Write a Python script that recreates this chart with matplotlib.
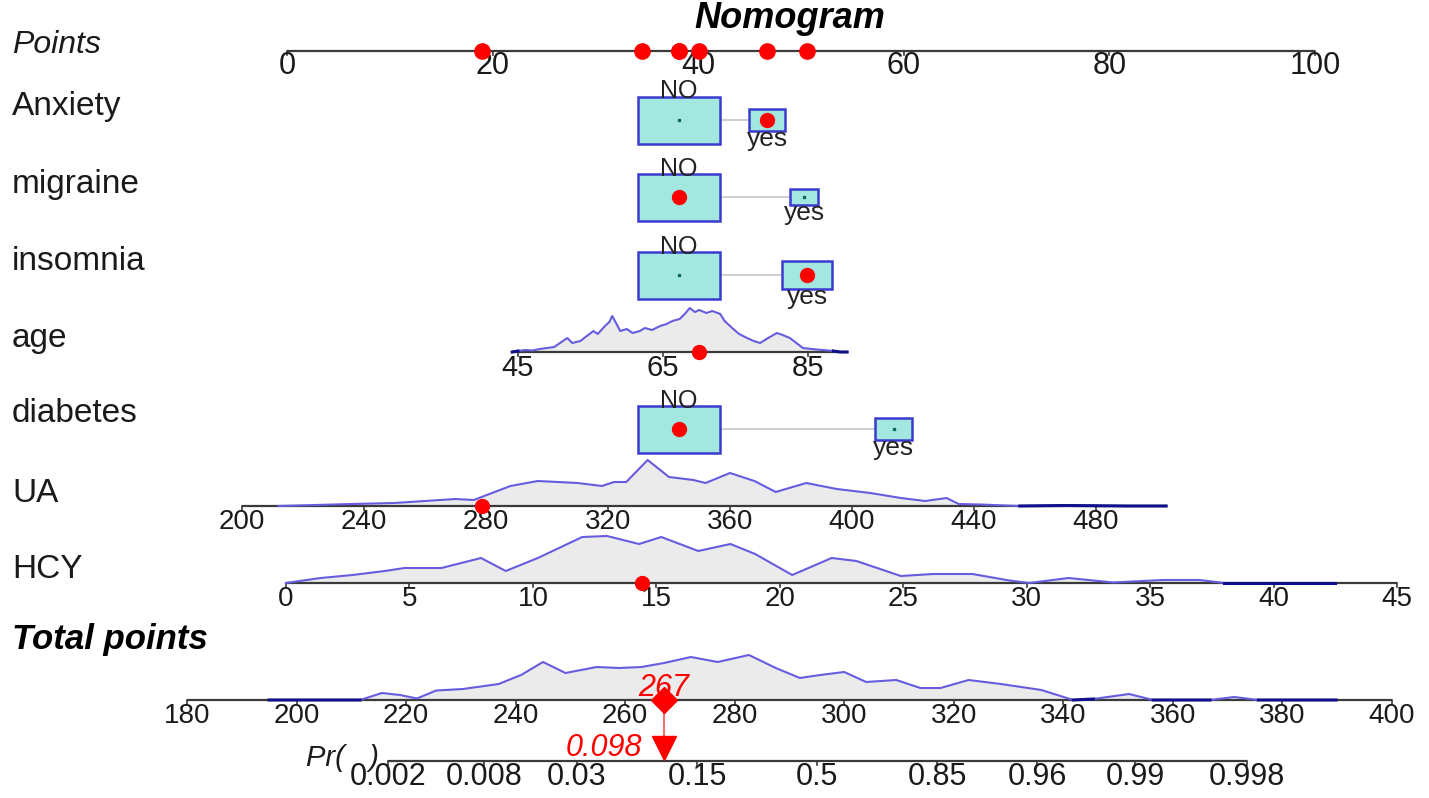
import numpy as np
import matplotlib.pyplot as plt
from matplotlib.patches import Rectangle

plt.rcParams['font.family'] = ['Liberation Sans', 'DejaVu Sans']

# ---------------- data ----------------
# binary predictors: points for each level, size of the 'yes' group relative to 'NO'
binary_vars = ['Anxiety', 'migraine', 'insomnia', 'diabetes']
no_points = [38.1, 38.1, 38.1, 38.1]
yes_points = [46.7, 50.3, 50.6, 59.0]
yes_share = [0.20, 0.12, 0.37, 0.20]
patient_level = ['yes', 'NO', 'yes', 'NO']

# continuous predictors: points = intercept + slope * value
age_coef = (-9.27, 0.7053)
ua_coef = (-63.72, 0.2967)
hcy_coef = (-0.10, 2.402)
age_range = (44.2, 90.4)
ua_range = (200, 503)
hcy_range = (0, 45)
age_ticks = [45, 65, 85]
ua_ticks = [200, 240, 280, 320, 360, 400, 440, 480]
hcy_ticks = [0, 5, 10, 15, 20, 25, 30, 35, 40, 45]
patient_age = 70
patient_ua = 278.8
patient_hcy = 14.4

# density outlines (value, height)
age_dens_x = [44.2, 45, 46, 47, 48, 49, 50, 51, 51.8, 52.5, 53.6, 54.5, 55.4, 56, 57, 57.6, 58,
              58.6, 59.1, 60, 60.8, 61.8, 62.5, 63.5, 64.6, 65.5, 66.3, 67.3, 68, 68.7, 69.4,
              70, 71, 71.8, 72.9, 73.5, 74.7, 75.5, 76.6, 77.5, 78.4, 79.5, 80.7, 81.5, 82.5,
              83.4, 84.3, 85.5, 87, 88.5, 89.4, 90.4]
age_dens_h = [0, 1, 2, 1.5, 3, 4, 5, 10, 14, 9, 11, 16, 21, 18, 26, 30, 36,
              28, 21, 23, 19, 21, 24, 22, 26, 28, 31, 33, 38, 44, 40,
              42, 39, 41, 38, 31, 23, 18, 14, 11, 9, 14, 19, 17, 14,
              9, 4, 3, 2, 1, 0, 0]
ua_dens_x = [212, 236, 250, 260, 270, 276, 282, 288, 297, 310, 318, 322, 326, 333, 340, 348,
             352, 360, 368, 375, 385, 395, 406, 416, 424, 431, 435, 442, 455, 470, 490, 503]
ua_dens_h = [0, 2, 3, 5, 7, 6, 13, 20, 25, 23, 20, 24, 24, 46, 29, 26,
             23, 33, 25, 14, 23, 17, 13, 8, 5, 8, 2, 1.5, 0, 0.5, 0, 0]
hcy_dens_x = [0, 1.4, 2.7, 4.0, 4.8, 6.3, 7.9, 8.9, 10.2, 12.0, 13.0, 14.3, 15.2, 16.7, 18.0,
              19.0, 20.5, 22.1, 23.1, 24.9, 26.2, 27.8, 29.3, 30.1, 31.7, 33.5, 35.5, 37, 38, 42.5]
hcy_dens_h = [0, 5, 8, 12, 15, 15, 25, 12, 25, 46, 47, 39, 46, 32, 39,
              29, 8, 25, 22, 7, 9, 9, 2.5, 0, 5, 0.5, 3, 3, 0, 0]
tp_dens_x = [195, 211.6, 215.6, 218.9, 222, 225.5, 230.4, 236.9, 241, 245, 249.1, 254.8, 258.9,
             263, 267.1, 272, 276.9, 282.6, 287.5, 291.9, 295.6, 300, 304, 309.5, 313.9, 317.6,
             322.7, 328.6, 336, 341.8, 345.5, 352, 356.4, 366.8, 371.2, 375.6, 389.8]
tp_dens_h = [0, 0, 7, 5, 1.5, 9.5, 11, 16, 25, 38, 27, 33, 32,
             33, 37, 43, 38, 45, 32, 22, 25, 28, 18, 20, 12, 12,
             20, 16, 10, 0, 1, 6, 0, 0, 3, 0, 0]

# total points and risk scale
tp_ticks = [180, 200, 220, 240, 260, 280, 300, 320, 340, 360, 380, 400]
pr_ticks = [0.002, 0.008, 0.03, 0.15, 0.5, 0.85, 0.96, 0.99, 0.998]
pr_labels = ['0.002', '0.008', '0.03', '0.15', '0.5', '0.85', '0.96', '0.99', '0.998']
logit_slope = 0.0792
logit_centre = 295.1
points_ticks = [0, 20, 40, 60, 80, 100]

# ---------------- layout ----------------
fig = plt.figure(figsize=(14.29, 7.98), dpi=100)
ax = fig.add_axes([0, 0, 1, 1])
ax.set_xlim(0, 1429)
ax.set_ylim(798, 0)
ax.axis('off')

row_y = {'Points': 51, 'Anxiety': 120, 'migraine': 197, 'insomnia': 275, 'age': 352,
         'diabetes': 429, 'UA': 506, 'HCY': 583, 'Total': 700, 'Pr': 761}
label_y = {'Anxiety': 107, 'migraine': 184, 'insomnia': 262, 'age': 339,
           'diabetes': 414, 'UA': 493, 'HCY': 570}

AXC = '#3a3a3a'
TXT = '#1a1a1a'
RED = '#ff0000'


def px(pts):
    return 287 + 10.28 * np.asarray(pts, dtype=float)


def tp_px(tp):
    return 187 + 5.477 * (np.asarray(tp, dtype=float) - 180)


def logit(p):
    p = np.asarray(p, dtype=float)
    return np.log(p / (1 - p))


def draw_axis(x0, x1, y, tick_x, labels, fs, dy=16):
    ax.plot([x0, x1], [y, y], color=AXC, lw=1.6, zorder=2, solid_capstyle='butt')
    for tx, lb in zip(tick_x, labels):
        ax.plot([tx, tx], [y, y + 4], color=AXC, lw=1.2, zorder=2)
        ax.text(tx, y + dy, lb, ha='center', va='center', fontsize=fs, color=TXT)


def draw_density(xs, hs, y):
    xs = np.asarray(xs, dtype=float)
    hs = np.asarray(hs, dtype=float)
    top = y - hs
    ax.fill_between(xs, y, top, color='#ebebeb', lw=0, zorder=1)
    ax.plot(xs, top, color='#675ce0', lw=1.5, zorder=3)
    # near-empty stretches show as a dark line on the axis
    flat = np.where(hs <= 1, top, np.nan)
    ax.plot(xs, flat, color='#10108a', lw=2.2, zorder=3)


# title and Points axis
ax.text(790, 19, 'Nomogram', ha='center', va='center', fontsize=26,
        fontweight='bold', fontstyle='italic', color='black')
ax.text(12, 45, 'Points', ha='left', va='center', fontsize=23, fontstyle='italic', color=TXT)
draw_axis(px(0), px(100), row_y['Points'], px(points_ticks),
          [str(t) for t in points_ticks], 22, dy=15)

# binary rows
patient_points = []
for i, name in enumerate(binary_vars):
    y = row_y[name]
    ax.text(12, label_y[name], name, ha='left', va='center', fontsize=24, color=TXT)
    wn, hn = 82, 47
    s = np.sqrt(yes_share[i])
    wy, hy = wn * s, hn * s
    xn, xy = px(no_points[i]), px(yes_points[i])
    ax.plot([xn + wn / 2, xy - wy / 2], [y, y], color='#c6c6c6', lw=1.2, zorder=1)
    for xc, w, h in [(xn, wn, hn), (xy, wy, hy)]:
        ax.add_patch(Rectangle((xc - w / 2, y - h / 2), w, h, fc='#a2e7e0',
                               ec='#3b3bd0', lw=1.8, zorder=2))
        ax.plot(xc, y, 's', ms=2, color='#0b6b63', zorder=3)
    ax.text(xn, y - hn / 2 - 5, 'NO', ha='center', va='center', fontsize=18, color='#222')
    ax.text(xy, y + hy / 2 + 8, 'yes', ha='center', va='center', fontsize=19, color='#222')
    pts = yes_points[i] if patient_level[i] == 'yes' else no_points[i]
    patient_points.append(pts)
    ax.plot(px(pts), y, 'o', ms=10, color=RED, zorder=4)

# continuous rows
cont = [('age', age_coef, age_range, age_ticks, patient_age, age_dens_x, age_dens_h, 21),
        ('UA', ua_coef, ua_range, ua_ticks, patient_ua, ua_dens_x, ua_dens_h, 20),
        ('HCY', hcy_coef, hcy_range, hcy_ticks, patient_hcy, hcy_dens_x, hcy_dens_h, 20)]
for name, (a, b), rng, ticks, val, dx, dh, fs in cont:
    y = row_y[name]
    ax.text(12, label_y[name], name, ha='left', va='center', fontsize=24, color=TXT)
    to_x = lambda v: px(a + b * np.asarray(v, dtype=float))
    draw_density(to_x(dx), dh, y)
    draw_axis(to_x(rng[0]), to_x(rng[1]), y, to_x(ticks), [str(t) for t in ticks], fs)
    pts = a + b * val
    patient_points.append(pts)
    ax.plot(to_x(val), y, 'o', ms=10, color=RED, zorder=4)

# patient points on the Points axis
for pts in patient_points:
    ax.plot(px(pts), row_y['Points'], 'o', ms=11, color=RED, zorder=4)

# total points
total = sum(patient_points)
ax.text(12, 639, 'Total points', ha='left', va='center', fontsize=25,
        fontweight='bold', fontstyle='italic', color='black')
y_tp = row_y['Total']
draw_density(tp_px(tp_dens_x), tp_dens_h, y_tp)
draw_axis(tp_px(180), tp_px(400), y_tp, tp_px(tp_ticks), [str(t) for t in tp_ticks], 20)

# probability axis
y_pr = row_y['Pr']
pr_tp = logit_centre + logit(pr_ticks) / logit_slope
draw_axis(tp_px(pr_tp[0]), tp_px(pr_tp[-1]), y_pr, tp_px(pr_tp), pr_labels, 22, dy=16)
ax.text(306, y_pr - 3, 'Pr(   )', ha='left', va='center', fontsize=21,
        fontstyle='italic', color=TXT)

# patient marker: total points and predicted risk
risk = 1 / (1 + np.exp(-logit_slope * (total - logit_centre)))
xt = tp_px(total)
ax.plot([xt, xt], [y_tp, y_pr - 10], color='#f07070', lw=1.5, zorder=4)
ax.plot(xt, y_tp, 'D', ms=13, color=RED, zorder=5)
ax.plot(xt, y_pr - 13, 'v', ms=17, color=RED, zorder=5)
ax.text(xt, y_tp - 12, f'{total:.0f}', ha='center', va='center', fontsize=22,
        fontstyle='italic', color=RED, zorder=6)
ax.text(xt - 22, y_pr - 13, f'{risk:.3f}', ha='right', va='center', fontsize=22,
        fontstyle='italic', color=RED, zorder=6)

fig.savefig('out.png', dpi=100)
